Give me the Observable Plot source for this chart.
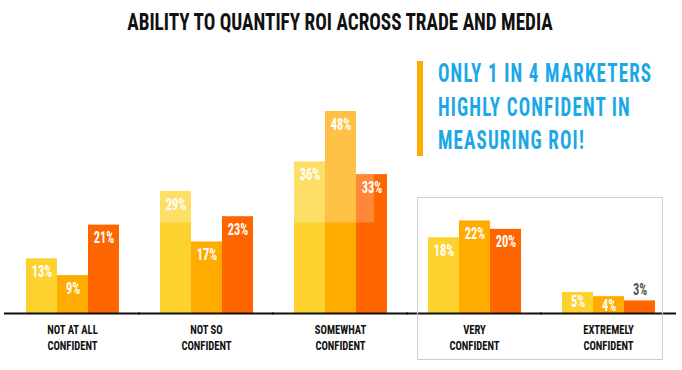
<!DOCTYPE html>
<html>
<head>
<meta charset="utf-8">
<script src="https://cdn.jsdelivr.net/npm/d3@7"></script>
<script src="https://cdn.jsdelivr.net/npm/@observablehq/plot@0.6"></script>
<style>
  body { margin: 0; background: #fff; }
  #wrap { position: relative; width: 682px; height: 370px; overflow: hidden; font-family: "Liberation Sans Narrow", "Roboto Condensed", "DejaVu Sans Condensed", sans-serif; }
  #title { height: 45px; line-height: 45px; text-align: center; font-size: 24px; font-weight: bold; color: #111; white-space: nowrap; }
  #title span { display: inline-block; transform: scaleX(0.8); margin-left: -3px; }
  #callout { position: absolute; left: 417px; top: 61px; height: 95px; border-left: 6px solid #FFAA00; }
  #callout div { position: absolute; left: 15px; white-space: nowrap; font-size: 25px; font-weight: bold; color: #1BA8E6; letter-spacing: 1.5px; transform-origin: left center; transform: scaleX(0.76); line-height: 25px; }
  #box { position: absolute; left: 417px; top: 197px; width: 246px; height: 163px; border: 1.5px solid #c9d0d7; box-sizing: border-box; }
</style>
</head>
<body>
<div id="wrap">
  <div id="title"><span>ABILITY TO QUANTIFY ROI ACROSS TRADE AND MEDIA</span></div>
  <div id="chart"></div>
  <div id="box"></div>
  <div id="callout">
    <div style="top:0px">ONLY 1 IN 4 MARKETERS</div>
    <div style="top:34px">HIGHLY CONFIDENT IN</div>
    <div style="top:67px">MEASURING ROI!</div>
  </div>
</div>
<script>
const categories = ["NOT AT ALL\nCONFIDENT", "NOT SO\nCONFIDENT", "SOMEWHAT\nCONFIDENT", "VERY\nCONFIDENT", "EXTREMELY\nCONFIDENT"];
const seriesNames = ["A", "B", "C"];
const seriesA = [13, 29, 36, 18, 5];
const seriesB = [9, 17, 48, 22, 4];
const seriesC = [21, 23, 33, 20, 3];
const seriesColors = ["#FDD22F", "#FFAB00", "#FF6600"];
// bars whose upper part is washed out in the reference, from this value upward
const washFrom = 21.5;
const washed = [["NOT SO\nCONFIDENT", "A"], ["SOMEWHAT\nCONFIDENT", "A"], ["SOMEWHAT\nCONFIDENT", "B"]];
const washedPartial = [["SOMEWHAT\nCONFIDENT", "C"]];

const allSeries = [seriesA, seriesB, seriesC];
const data = [];
categories.forEach((c, i) => seriesNames.forEach((s, j) => data.push({cat: c, series: s, value: allSeries[j][i]})));
const find = ([c, s]) => data.find(d => d.cat === c && d.series === s);
const washData = washed.map(find);
const washPartialData = washedPartial.map(find);

const font = '"Liberation Sans Narrow", "Roboto Condensed", "DejaVu Sans Condensed", sans-serif';
const lblStyle = {fx: "cat", x: "series", y: "value", text: d => d.value + "%", fontSize: 16, fontWeight: "bold", className: "lbl"};

const plot = Plot.plot({
  width: 682,
  height: 325,
  marginLeft: 24,
  marginRight: 27,
  marginTop: 66,
  marginBottom: 57,
  style: {fontFamily: font, background: "transparent"},
  fx: {domain: categories, paddingInner: 0.3, paddingOuter: 0, axis: null},
  x: {domain: seriesNames, padding: 0, axis: null},
  y: {domain: [0, 48], axis: null},
  color: {domain: seriesNames, range: seriesColors},
  marks: [
    Plot.barY(data, {fx: "cat", x: "series", y: "value", fill: "series"}),
    Plot.barY(washData, {fx: "cat", x: "series", y1: washFrom, y2: "value", fill: "white", fillOpacity: 0.27}),
    Plot.barY(washPartialData, {fx: "cat", x: "series", y1: washFrom, y2: "value", fill: "white", fillOpacity: 0.22, insetRight: 13}),
    Plot.ruleY([0], {stroke: "#111", strokeWidth: 2, insetLeft: -21, insetRight: -21}),
    Plot.text(data.filter(d => d.value >= 8), {...lblStyle, dy: 13, fill: "white"}),
    Plot.text(data.filter(d => d.value >= 4 && d.value < 8), {...lblStyle, dy: 9, fill: "white"}),
    Plot.text(data.filter(d => d.value < 4), {...lblStyle, dy: -11, fill: "#555"}),
    Plot.text(categories, {fx: d => d, frameAnchor: "bottom", text: d => d, lineAnchor: "top", dy: 9, lineHeight: 1.28, fontSize: 12.5, fontWeight: "bold", fill: "#111", className: "cat"})
  ]
});
// condense glyphs horizontally to mimic the narrow display face
plot.querySelectorAll("g.lbl text").forEach(t => {
  t.setAttribute("transform", (t.getAttribute("transform") || "") + " scale(0.78,1)");
});
plot.querySelectorAll("g.cat text").forEach(t => {
  t.setAttribute("transform", (t.getAttribute("transform") || "") + " scale(0.85,1)");
});
document.getElementById("chart").appendChild(plot);
</script>
</body>
</html>
